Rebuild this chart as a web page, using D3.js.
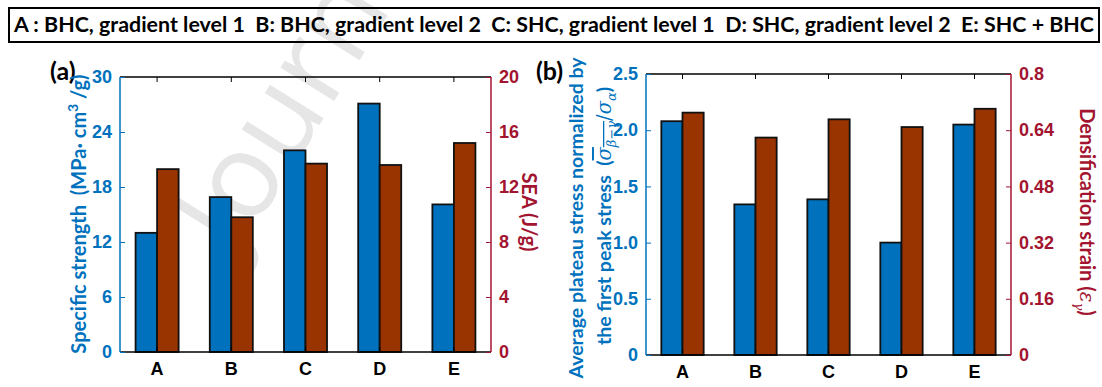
<!DOCTYPE html>
<html>
<head>
<meta charset="utf-8">
<script src="https://cdn.jsdelivr.net/npm/d3@7"></script>
<style>
  body { margin: 0; background: #fff; }
  svg { display: block; font-family: Lato, "Open Sans", sans-serif; font-weight: bold; }
</style>
</head>
<body>
<svg id="chart" width="1102" height="387"></svg>
<script>
// Data
const categories = ['A', 'B', 'C', 'D', 'E'];
const specificStrength = [13.0, 16.9, 22.0, 27.1, 16.1];
const sea = [13.3, 9.8, 13.7, 13.6, 15.2];
const plateauRatio = [2.08, 1.34, 1.385, 1.0, 2.05];
const densificationStrain = [0.69, 0.619, 0.671, 0.649, 0.701];
const legendText = 'A : BHC, gradient level 1  B: BHC, gradient level 2  C: SHC, gradient level 1  D: SHC, gradient level 2  E: SHC + BHC';
const ticksA = [0, 6, 12, 18, 24, 30];
const ticksARight = [0, 4, 8, 12, 16, 20];
const ticksB = [0, 0.5, 1.0, 1.5, 2.0, 2.5];
const ticksBRight = [0, 0.16, 0.32, 0.48, 0.64, 0.8];

const BLUE = '#0072BD';
const RED = '#A2142F';
const BROWN = '#993300';

const svg = d3.select('#chart');

// Watermark
svg.append('text')
    .attr('transform', 'translate(236,258) rotate(-58)')
    .attr('fill', '#e6e6e6')
    .style('font-family', '"Open Sans", sans-serif')
    .style('font-weight', 'normal')
    .style('font-size', '118px')
    .text('Journal Pre-proof');

// Legend box
svg.append('rect')
    .attr('x', 9).attr('y', 8)
    .attr('width', 1090).attr('height', 34)
    .attr('fill', 'none')
    .attr('stroke', '#000')
    .attr('stroke-width', 2);

svg.append('text')
    .attr('x', 14).attr('y', 32)
    .attr('textLength', 1080)
    .attr('lengthAdjust', 'spacingAndGlyphs')
    .style('white-space', 'pre')
    .style('font-size', '20px')
    .text(legendText);

// Draw one panel
function drawPanel(opt) {
    const { left, right, top, bottom } = opt;

    const x = d3.scaleBand().domain(categories).range([left, right]).padding(0);
    const groupW = x.step() * 0.58;
    const xSub = d3.scaleBand().domain([0, 1]).range([0, groupW]).padding(0);

    const yL = d3.scaleLinear().domain(opt.leftDomain).range([bottom, top]);
    const yR = d3.scaleLinear().domain(opt.rightDomain).range([bottom, top]);

    const g = svg.append('g');

    // Bars
    const barGroups = g.selectAll('.grp')
        .data(categories)
        .join('g')
        .attr('transform', d => `translate(${x(d) + (x.step() - groupW) / 2},0)`);

    barGroups.append('rect')
        .attr('x', xSub(0))
        .attr('width', xSub.bandwidth())
        .attr('y', (d, i) => yL(opt.leftValues[i]))
        .attr('height', (d, i) => bottom - yL(opt.leftValues[i]))
        .attr('fill', BLUE)
        .attr('stroke', '#111')
        .attr('stroke-width', 1.8);

    barGroups.append('rect')
        .attr('x', xSub(1))
        .attr('width', xSub.bandwidth())
        .attr('y', (d, i) => yR(opt.rightValues[i]))
        .attr('height', (d, i) => bottom - yR(opt.rightValues[i]))
        .attr('fill', BROWN)
        .attr('stroke', '#111')
        .attr('stroke-width', 1.8);

    // Top axis (ticks only)
    g.append('g')
        .attr('transform', `translate(0,${top})`)
        .call(d3.axisTop(x).tickSize(-5).tickFormat(''))
        .call(a => a.select('.domain').attr('stroke', '#000').attr('stroke-width', 1.5).attr('d', `M${left},0H${right}`));

    // Bottom axis
    g.append('g')
        .attr('transform', `translate(0,${bottom})`)
        .call(d3.axisBottom(x).tickSize(-5).tickPadding(10))
        .call(a => a.select('.domain').attr('stroke', '#000').attr('stroke-width', 1.5).attr('d', `M${left},0H${right}`))
        .call(a => a.selectAll('.tick line').attr('stroke', '#000'))
        .call(a => a.selectAll('text').attr('fill', '#000').style('font-size', '18px'));

    // Left axis
    g.append('g')
        .attr('transform', `translate(${left},0)`)
        .call(d3.axisLeft(yL).tickValues(opt.leftTicks).tickSize(-5).tickPadding(8).tickFormat(opt.leftFormat))
        .call(a => a.select('.domain').attr('stroke', BLUE).attr('stroke-width', 1.5).attr('d', `M0,${top}V${bottom}`))
        .call(a => a.selectAll('.tick line').attr('stroke', BLUE))
        .call(a => a.selectAll('text').attr('fill', BLUE).style('font-size', '18px'));

    // Right axis
    g.append('g')
        .attr('transform', `translate(${right},0)`)
        .call(d3.axisRight(yR).tickValues(opt.rightTicks).tickSize(-5).tickPadding(8).tickFormat(opt.rightFormat))
        .call(a => a.select('.domain').attr('stroke', RED).attr('stroke-width', 1.5).attr('d', `M0,${top}V${bottom}`))
        .call(a => a.selectAll('.tick line').attr('stroke', RED))
        .call(a => a.selectAll('text').attr('fill', RED).style('font-size', '18px'));

    // Panel letter
    svg.append('text')
        .attr('x', opt.letterX).attr('y', 80)
        .style('font-size', '25px')
        .text(opt.letter);

    return g;
}

// Panel (a)
drawPanel({
    left: 120, right: 491, top: 77, bottom: 352,
    leftDomain: [0, 30], rightDomain: [0, 20],
    leftValues: specificStrength, rightValues: sea,
    leftTicks: ticksA, rightTicks: ticksARight,
    leftFormat: d3.format('d'), rightFormat: d3.format('d'),
    letter: '(a)', letterX: 50
});

// Panel (b)
drawPanel({
    left: 646, right: 1011, top: 74, bottom: 355,
    leftDomain: [0, 2.5], rightDomain: [0, 0.8],
    leftValues: plateauRatio, rightValues: densificationStrain,
    leftTicks: ticksB, rightTicks: ticksBRight,
    leftFormat: d => d === 0 ? '0' : d3.format('.1f')(d),
    rightFormat: d => d === 0 ? '0' : String(d),
    letter: '(b)', letterX: 536
});

// Axis titles, panel (a)
const ta = svg.append('text')
    .attr('transform', 'translate(86,214) rotate(-90)')
    .attr('text-anchor', 'middle')
    .attr('fill', BLUE)
    .style('font-size', '20px')
    .style('white-space', 'pre');
ta.append('tspan').text('Specific strength  (MPa· cm');
ta.append('tspan').attr('dy', -8).style('font-size', '14px').text('3');
ta.append('tspan').attr('dy', 8).text(' /g)');

svg.append('text')
    .attr('transform', 'translate(522,212) rotate(90)')
    .attr('text-anchor', 'middle')
    .attr('fill', RED)
    .style('font-size', '20px')
    .text('SEA (J/g)');

// Axis titles, panel (b)
svg.append('text')
    .attr('transform', 'translate(583,218) rotate(-90)')
    .attr('text-anchor', 'middle')
    .attr('fill', BLUE)
    .style('font-size', '19.5px')
    .text('Average plateau stress normalized by');

const tb = svg.append('text')
    .attr('transform', 'translate(611,216) rotate(-90)')
    .attr('text-anchor', 'middle')
    .attr('fill', BLUE)
    .style('font-size', '19.5px')
    .style('white-space', 'pre');
tb.append('tspan').text('the first peak stress  (');
tb.append('tspan').style('font-style', 'italic').style('font-weight', 'normal')
    .style('text-decoration', 'overline').style('font-family', '"DejaVu Serif", serif').text('σ');
tb.append('tspan').attr('dy', 5).style('font-size', '13px').style('font-style', 'italic').style('font-weight', 'normal')
    .style('text-decoration', 'overline').style('font-family', '"DejaVu Serif", serif').text('β−γ');
tb.append('tspan').attr('dy', -5).style('font-weight', 'normal').style('font-family', '"DejaVu Serif", serif').text('/');
tb.append('tspan').style('font-style', 'italic').style('font-weight', 'normal').style('font-family', '"DejaVu Serif", serif').text('σ');
tb.append('tspan').attr('dy', 5).style('font-size', '13px').style('font-style', 'italic').style('font-weight', 'normal')
    .style('font-family', '"DejaVu Serif", serif').text('α');
tb.append('tspan').attr('dy', -5).text(')');

const tr = svg.append('text')
    .attr('transform', 'translate(1080,212) rotate(90)')
    .attr('text-anchor', 'middle')
    .attr('fill', RED)
    .style('font-size', '20px');
tr.append('tspan').text('Densification strain (');
tr.append('tspan').style('font-style', 'italic').style('font-weight', 'normal').style('font-family', '"DejaVu Serif", serif').text('ε');
tr.append('tspan').attr('dy', 5).style('font-size', '13px').style('font-style', 'italic').style('font-weight', 'normal')
    .style('font-family', '"DejaVu Serif", serif').text('γ');
tr.append('tspan').attr('dy', -5).text(')');
</script>
</body>
</html>
